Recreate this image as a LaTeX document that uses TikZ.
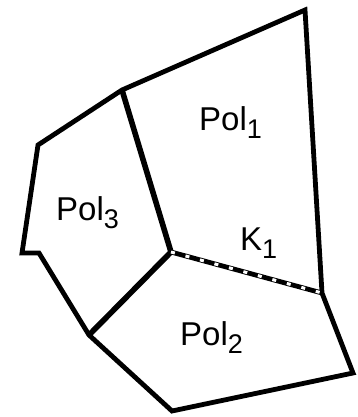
\documentclass[tikz,border=0pt]{standalone}
\usepackage{fontspec}
\setmainfont{Liberation Sans}
\usepackage{tikz}
\usetikzlibrary{calc}

\tikzset{
  edge/.style={line width=4.8pt},
  inner/.style={line width=5.6pt},
  lbl/.style={anchor=base west,inner sep=0pt,font=\fontsize{33}{36}\selectfont},
}
\newcommand{\sub}[1]{\raisebox{-8pt}{\fontsize{27}{30}\selectfont #1}}

\begin{document}
\begin{tikzpicture}[x=1pt,y=-1pt]
\useasboundingbox (0,0) rectangle (357,417);
\coordinate (tr) at (305,10);
\coordinate (tl) at (122,90);
\coordinate (c) at (171,252);
\coordinate (r) at (322,293);
\coordinate (l1) at (38,145);
\coordinate (l2) at (22,253);
\coordinate (l3) at (39,253);
\coordinate (bl) at (89,335);
\coordinate (b) at (172,411);
\coordinate (br) at (353,373);
\draw[edge] (r)--(tr)--(tl)--(l1)--(l2)--(l3)--(bl)--(b)--(br)--(r);
\draw[inner] (tl)--(c);
\draw[inner] (c)--(bl);
\draw[edge] (c)--(r);
\draw[white,line width=3pt,dash pattern=on 4pt off 11pt] (c)--(r);
\node[lbl] at (199,130) (p1) {Pol\sub{1}};
\node[lbl] at (56,220) (p3) {Pol\sub{3}};
\node[lbl] at (180,345) (p2) {Pol\sub{2}};
\node[lbl] at (240,250) (k1) {K\sub{1}};
\end{tikzpicture}
\end{document}
